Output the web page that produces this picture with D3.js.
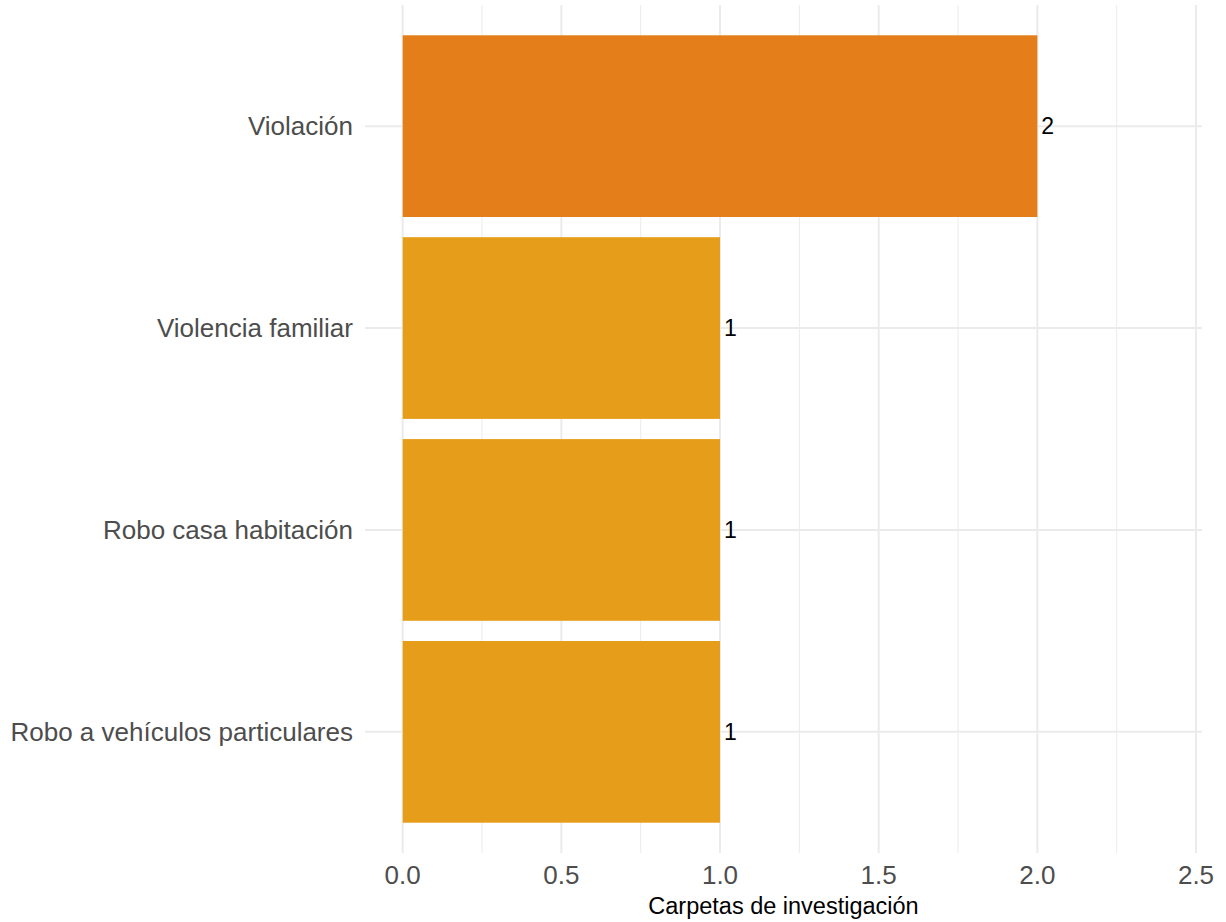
<!DOCTYPE html>
<html><head><meta charset="utf-8">
<script src="https://cdn.jsdelivr.net/npm/d3@7"></script>
<style>body{margin:0;background:#fff}svg{display:block}</style>
</head><body>
<script>
const categories = ["Violación", "Violencia familiar", "Robo casa habitación", "Robo a vehículos particulares"];
const values = [2, 1, 1, 1];
const barColors = ["#E37E1A", "#E69E1A"];
const xTicks = [0, 0.5, 1.0, 1.5, 2.0, 2.5];
const xMinor = [0.25, 0.75, 1.25, 1.75, 2.25];
const xTitle = "Carpetas de investigación";

const W = 1226, H = 922;
const svg = d3.select("body").append("svg").attr("width", W).attr("height", H);
const panel = {left: 365, right: 1202, top: 5, bottom: 853};
const font = "Liberation Sans, Arial, sans-serif";

const x = d3.scaleLinear().domain([0, 2.5]).range([402.7, 1196]);
const y = d3.scaleBand().domain(categories).range([panel.top, panel.bottom]).paddingInner(0.1).paddingOuter(0.15);

const grid = svg.append("g");
grid.selectAll(".minor").data(xMinor).join("line")
  .attr("x1", d => x(d)).attr("x2", d => x(d)).attr("y1", panel.top).attr("y2", panel.bottom)
  .attr("stroke", "#EBEBEB").attr("stroke-width", 1);
grid.selectAll(".major").data(xTicks).join("line")
  .attr("x1", d => x(d)).attr("x2", d => x(d)).attr("y1", panel.top).attr("y2", panel.bottom)
  .attr("stroke", "#EBEBEB").attr("stroke-width", 2);
grid.selectAll(".hmajor").data(categories).join("line")
  .attr("x1", panel.left).attr("x2", panel.right)
  .attr("y1", d => y(d) + y.bandwidth() / 2).attr("y2", d => y(d) + y.bandwidth() / 2)
  .attr("stroke", "#EBEBEB").attr("stroke-width", 2);

svg.append("g").selectAll("rect").data(categories).join("rect")
  .attr("x", x(0)).attr("y", d => y(d))
  .attr("width", (d, i) => x(values[i]) - x(0)).attr("height", y.bandwidth())
  .attr("fill", (d, i) => i === 0 ? barColors[0] : barColors[1]);

svg.append("g").selectAll("text").data(categories).join("text")
  .attr("x", (d, i) => x(values[i]) + 4).attr("y", d => y(d) + y.bandwidth() / 2)
  .attr("dy", "0.35em")
  .attr("font-family", font).attr("font-size", 23)
  .attr("fill", "#000").text((d, i) => values[i]);

svg.append("g").selectAll("text").data(categories).join("text")
  .attr("x", 353).attr("y", d => y(d) + y.bandwidth() / 2)
  .attr("dy", "0.35em").attr("text-anchor", "end")
  .attr("font-family", font).attr("font-size", 26)
  .attr("fill", "#4D4D4D").text(d => d);

svg.append("g").selectAll("text").data(xTicks).join("text")
  .attr("x", d => x(d)).attr("y", 884).attr("text-anchor", "middle")
  .attr("font-family", font).attr("font-size", 26)
  .attr("fill", "#4D4D4D").text(d => d3.format(".1f")(d));

svg.append("text").attr("x", (panel.left + panel.right) / 2).attr("y", 914)
  .attr("text-anchor", "middle")
  .attr("font-family", font).attr("font-size", 23.5)
  .attr("fill", "#000").text(xTitle);
</script>
</body></html>
